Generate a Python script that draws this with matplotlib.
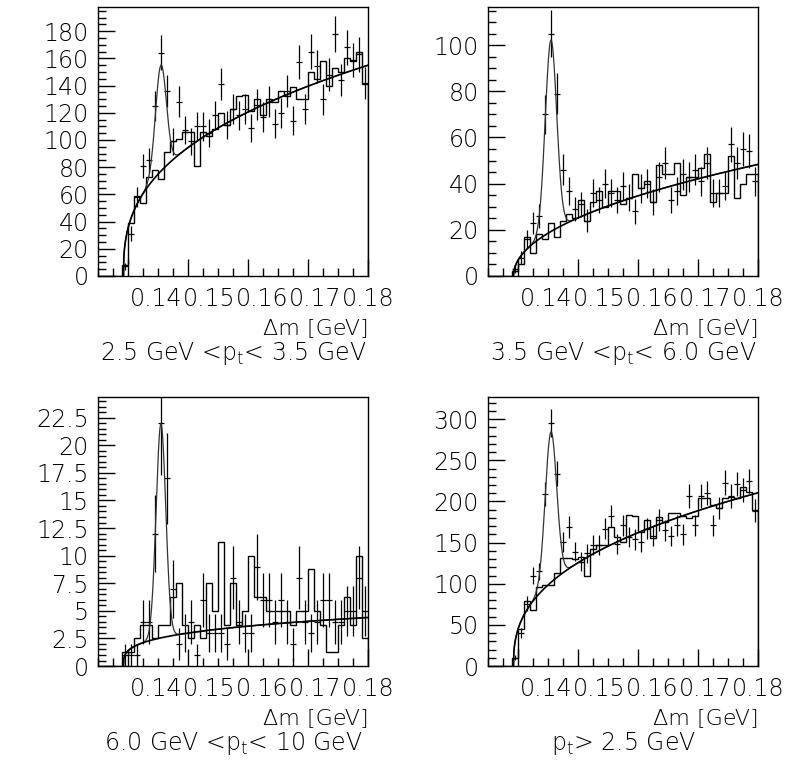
import numpy as np
import matplotlib.pyplot as plt
from matplotlib.ticker import MultipleLocator, FuncFormatter

plt.rcParams['font.family'] = ['DejaVu Sans']
plt.rcParams['font.weight'] = 200
plt.rcParams['mathtext.default'] = 'regular'

### binning: 45 bins of 1 MeV ###
lo, hi, nbins = 0.135, 0.180, 45
edges = np.linspace(lo, hi, nbins + 1)
centers = 0.5 * (edges[:-1] + edges[1:])

# histogram (steps) per pt bin
hist1 = [0, 0, 0, 0, 8, 39, 59, 54, 73, 78, 71, 91, 99, 101, 106, 106, 81, 106, 103, 108,
         120, 111, 123, 132, 133, 121, 130, 118, 130, 128, 136, 132, 139, 130, 130, 150, 145, 158, 140, 153,
         150, 160, 158, 165, 141]
hist2 = [0, 0, 0, 0, 2, 5, 17, 10, 18, 16, 23, 17, 24, 27, 25, 33, 24, 32, 37, 30,
         37, 37, 31, 34, 44, 38, 41, 32, 48, 44, 44, 49, 35, 43, 43, 47, 53, 32, 36, 36,
         52, 34, 40, 44, 44]
hist3 = [0, 0, 0, 0, 1.25, 1.25, 2.5, 3.75, 3.75, 2.5, 3.75, 3.75, 6.25, 7.5, 3.75, 2.5, 3.75, 2.5, 7.5, 5,
         11.25, 3.75, 7.5, 3.75, 5, 10, 6.25, 6.25, 5, 5, 5, 5, 3.75, 5, 5, 8.75, 5, 3.75, 1.25, 1.25,
         3.75, 6.25, 3.75, 10, 2.5]
hist4 = [0, 0, 0, 0, 10, 45, 79, 68, 96, 98, 98, 113, 131, 131, 130, 132, 109, 142, 147, 147,
         169, 157, 151, 183, 182, 163, 178, 156, 181, 175, 186, 186, 182, 180, 182, 204, 204, 196, 192, 204,
         206, 204, 218, 212, 190]

# data points (crosses)
data1 = [0, 0, 0, 0, 7, 31, 58, 81, 85, 125, 164, 136, 99, 128, 107, 99, 110, 110, 105, 118,
         141, 111, 123, 118, 123, 109, 126, 117, 128, 112, 120, 136, 114, 157, 123, 165, 154, 130, 148, 178,
         144, 168, 159, 163, 142]
data2 = [0, 0, 0, 0, 3, 8, 16, 23, 26, 70, 105, 79, 46, 37, 29, 31, 24, 36, 33, 40,
         36, 33, 39, 34, 28, 38, 40, 32, 43, 49, 33, 37, 44, 43, 46, 41, 49, 36, 36, 39,
         57, 49, 55, 54, 41]
data3 = [0, 0, 0, 0, 1, 1, 1, 4, 4, 12, 22, 17, 7, 2, 3, 4, 1, 6, 3, 3,
         3, 2, 8, 4, 3, 3, 9, 6, 6, 4, 6, 4, 2, 8, 4, 3, 4, 6, 6, 4,
         4, 5, 5, 8, 5]
data4 = [0, 0, 0, 0, 10, 40, 76, 110, 115, 209, 295, 234, 151, 169, 139, 127, 137, 147, 147, 167,
         182, 148, 171, 157, 154, 151, 167, 158, 178, 165, 158, 171, 160, 207, 171, 207, 210, 171, 192, 223,
         207, 221, 214, 225, 189]

# fit: background a*(dm - t0)^b plus gaussian A, mean, sigma
t0 = 0.1392
bg_pars = [[509.5, 0.372], [231.9, 0.49], [11.12, 0.29], [729.0, 0.388]]
sig_pars = [[78, 0.14544, 0.0009], [83, 0.14544, 0.00095], [19.4, 0.14544, 0.0008], [183, 0.14544, 0.00095]]

ymax = [198, 116.7, 24.4, 327.4]
ymajor = [20, 20, 2.5, 50]
yminor = [5, 5, 0.5, 10]
captions = [r'2.5 GeV <$\mathregular{p_t}$< 3.5 GeV',
            r'3.5 GeV <$\mathregular{p_t}$< 6.0 GeV',
            r'6.0 GeV <$\mathregular{p_t}$< 10 GeV',
            r'$\mathregular{p_t}$> 2.5 GeV']
xticks = [0.14, 0.15, 0.16, 0.17, 0.18]
xlab_shift = [20.3, 15.3, 10.2, 5.2, 0.2]   # points, the labels are squeezed to the right

hists = [hist1, hist2, hist3, hist4]
datas = [data1, data2, data3, data4]

fig = plt.figure(figsize=(8.03, 7.63), dpi=100)
positions = [[0.1224, 0.6383, 0.3362, 0.3530],
             [0.6081, 0.6383, 0.3362, 0.3530],
             [0.1224, 0.1271, 0.3362, 0.3530],
             [0.6081, 0.1271, 0.3362, 0.3530]]

fs = 17
for k in range(4):
    ax = fig.add_axes(positions[k])
    h = np.array(hists[k], dtype=float)
    d = np.array(datas[k], dtype=float)

    ax.stairs(h, edges, color='black', lw=1.0)
    m = d > 0
    ax.errorbar(centers[m], d[m], yerr=np.sqrt(d[m]), xerr=0.0005, fmt='none',
                ecolor='black', elinewidth=0.9, capsize=0)

    xx = np.linspace(t0, hi, 800)
    a, b = bg_pars[k]
    A, mu, s = sig_pars[k]
    bg = a * (xx - t0) ** b
    ax.plot(xx, bg + A * np.exp(-0.5 * ((xx - mu) / s) ** 2), color='#333333', lw=0.9)
    ax.plot(xx, bg, color='black', lw=1.2)

    ax.set_xlim(lo, hi)
    ax.set_ylim(0, ymax[k])
    ax.xaxis.set_major_locator(MultipleLocator(0.01))
    ax.xaxis.set_minor_locator(MultipleLocator(0.0025))
    ax.yaxis.set_major_locator(MultipleLocator(ymajor[k]))
    ax.yaxis.set_minor_locator(MultipleLocator(yminor[k]))
    ax.yaxis.set_major_formatter(FuncFormatter(lambda v, p: '%g' % v))
    ax.tick_params(which='both', direction='in', top=False, right=False, width=1.0)
    ax.tick_params(which='major', length=12.5)
    ax.tick_params(which='minor', length=6)
    ax.tick_params(axis='y', labelsize=fs, pad=7)
    ax.tick_params(axis='x', labelbottom=False)
    for sp in ax.spines.values():
        sp.set_linewidth(1.0)

    for j, v in enumerate(xticks):
        ax.annotate('%g' % v, xy=(v, 0), xycoords=('data', 'axes fraction'),
                    xytext=(xlab_shift[j], -8), textcoords='offset points',
                    ha='center', va='top', fontsize=fs)
    ax.annotate('Δm [GeV]', xy=(1, 0), xycoords='axes fraction', xytext=(0, -37.5),
                textcoords='offset points', ha='right', va='center', fontsize=16)
    ax.annotate(captions[k], xy=(0.5, 0), xycoords='axes fraction', xytext=(0, -56),
                textcoords='offset points', ha='center', va='center', fontsize=fs)

fig.savefig('out.png', dpi=100)
